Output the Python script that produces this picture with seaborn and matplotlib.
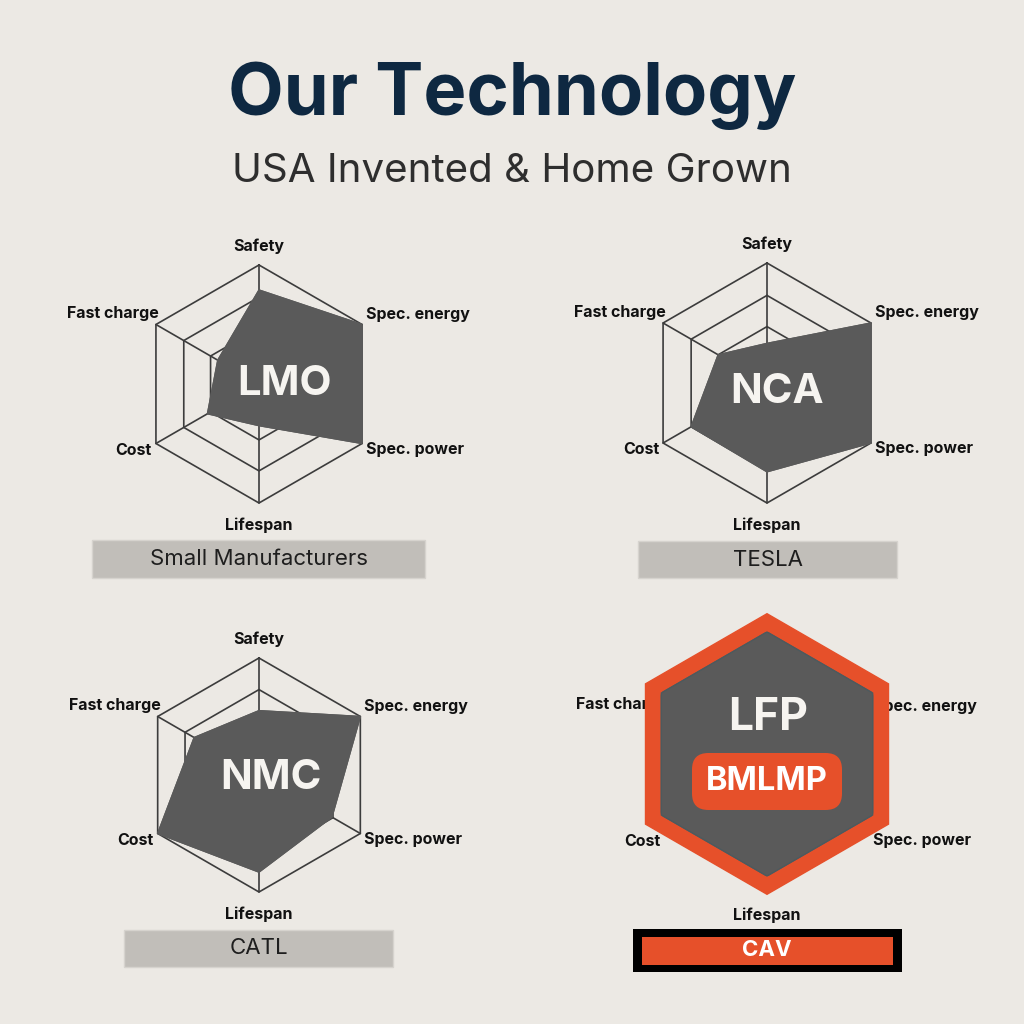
import numpy as np
import matplotlib
matplotlib.use("Agg")
import matplotlib.pyplot as plt
import seaborn as sns
from matplotlib.patches import Rectangle, FancyBboxPatch

# ---------------- data ----------------
categories = ["Safety", "Spec. energy", "Spec. power", "Lifespan", "Cost", "Fast charge"]
chemistries = ["LMO", "NCA", "NMC", "LFP"]
makers = ["Small Manufacturers", "TESLA", "CATL", "CAV"]
lmo_values = [0.79, 1.00, 1.00, 0.35, 0.50, 0.40]
nca_values = [0.33, 1.00, 1.00, 0.74, 0.73, 0.47]
nmc_values = [0.55, 1.00, 0.72, 0.83, 1.00, 0.64]
lfp_values = [1.00, 1.00, 1.00, 1.00, 1.00, 1.00]
ring_levels = [0.47, 0.73, 1.00]
badge_text = "BMLMP"
title = "Our Technology"
subtitle = "USA Invented & Home Grown"

# ---------------- style ----------------
BG = "#ece9e4"
NAVY = "#0e2841"
GRAY_FILL = "#5a5a5a"
GRID = "#3c3c3c"
ORANGE = "#e6502a"
CAPTION_BOX = "#c1beb9"
W = H = 1024

sns.set_theme(style="white")
plt.rcParams["font.family"] = ["Inter", "DejaVu Sans"]

fig = plt.figure(figsize=(10.24, 10.24), dpi=100, facecolor=BG)


def fx(x):
    return x / W


def fy(y):
    return 1 - y / H


def polar_at(cx, cy, R):
    ax = fig.add_axes([fx(cx - R), fy(cy + R), 2 * R / W, 2 * R / H], projection="polar")
    ax.set_theta_offset(np.pi / 2)
    ax.set_theta_direction(-1)
    ax.set_ylim(0, 1)
    ax.axis("off")
    return ax


theta = np.arange(len(categories)) * 2 * np.pi / len(categories)
theta_c = np.append(theta, theta[0])

# label offsets in pixels from each outer vertex: (dx, dy, ha)
label_off = [(0, 19, "center"), (4, 10, "left"), (4, -6, "left"),
             (0, -22, "center"), (-4, -7, "right"), (3, 11, "right")]


def draw_labels(ax):
    for t, lab, (dx, dy, ha) in zip(theta, categories, label_off):
        ax.annotate(lab, xy=(t, 1.0), xytext=(dx, dy), textcoords="offset pixels",
                    ha=ha, va="center", fontsize=11.5, fontweight="bold",
                    color="#111111", annotation_clip=False)


def draw_grid(ax):
    for lv in ring_levels:
        ln, = ax.plot(theta_c, [lv] * len(theta_c), color=GRID, lw=1.2, zorder=1)
        ln.set_clip_on(False)
    for t in theta:
        ln, = ax.plot([t, t], [0, 1], color=GRID, lw=1.2, zorder=1)
        ln.set_clip_on(False)


def draw_caption(cx, y0, y1, w, text, dark=False):
    if dark:
        fig.add_artist(Rectangle((fx(cx - w / 2), fy(y1)), w / W, (y1 - y0) / H,
                                 transform=fig.transFigure, facecolor="black",
                                 edgecolor="none", zorder=2))
        fig.add_artist(Rectangle((fx(cx - w / 2 + 9), fy(y1 - 7)), (w - 18) / W, (y1 - y0 - 15) / H,
                                 transform=fig.transFigure, facecolor=ORANGE,
                                 edgecolor="none", zorder=3))
        fig.text(fx(cx), fy((y0 + y1) / 2 - 1), text, ha="center", va="center",
                 fontsize=16, fontweight="bold", color="white", zorder=4)
    else:
        fig.add_artist(Rectangle((fx(cx - w / 2), fy(y1)), w / W, (y1 - y0) / H,
                                 transform=fig.transFigure, facecolor=CAPTION_BOX,
                                 edgecolor="#d6d3ce", lw=1, zorder=2))
        fig.text(fx(cx), fy((y0 + y1) / 2), text, ha="center", va="center",
                 fontsize=16, color="#1e1e1e", zorder=4)


panels = [
    dict(vals=lmo_values, cx=259, cy=384, R=119, tdx=25, tdy=0),
    dict(vals=nca_values, cx=767, cy=383, R=120, tdx=10, tdy=9),
    dict(vals=nmc_values, cx=259, cy=775, R=117, tdx=12, tdy=3),
]

for p, chem in zip(panels, chemistries[:3]):
    ax = polar_at(p["cx"], p["cy"], p["R"])
    draw_grid(ax)
    v = np.append(p["vals"], p["vals"][0])
    polys = ax.fill(theta_c, v, color=GRAY_FILL, zorder=3)
    for pg in polys:
        pg.set_clip_on(False)
    sns.lineplot(x=theta_c, y=v, sort=False, estimator=None, ax=ax,
                 color=GRAY_FILL, lw=1, zorder=4)
    ax.axis("off")
    draw_labels(ax)
    ax.annotate(chem, xy=(0, 0), xytext=(p["tdx"], -p["tdy"]), textcoords="offset pixels",
                ha="center", va="center", fontsize=30, fontweight="bold",
                color="#f6f4f0", zorder=6, annotation_clip=False)

# LFP panel: labels underneath, hexagon badge on top
ax_l = polar_at(767, 775, 118)
draw_grid(ax_l)
draw_labels(ax_l)

ax_b = polar_at(767, 754, 122)
v = np.append(lfp_values, lfp_values[0])
outer = ax_b.fill(theta_c, v * 1.15, color=ORANGE, zorder=2)
inner = ax_b.fill(theta_c, v, color=GRAY_FILL, zorder=3)
for pg in outer + inner:
    pg.set_clip_on(False)
sns.lineplot(x=theta_c, y=v, sort=False, estimator=None, ax=ax_b,
             color="#4d5a5e", lw=1, zorder=4)
ax_b.axis("off")

fig.text(fx(768), fy(718), chemistries[3], ha="center", va="center",
         fontsize=32, fontweight="bold", color="#f6f4f0", zorder=6)
fig.add_artist(FancyBboxPatch((fx(692), fy(810)), 150 / W, 57 / H,
                              boxstyle="round,pad=0.0,rounding_size=0.016",
                              transform=fig.transFigure, facecolor=ORANGE,
                              edgecolor="none", zorder=5))
fig.text(fx(767), fy(782), badge_text, ha="center", va="center",
         fontsize=23.5, fontweight="bold", color="white", zorder=6)

# captions
draw_caption(258.5, 540, 578, 333, makers[0])
draw_caption(767.5, 541, 578, 259, makers[1])
draw_caption(258.5, 930, 967, 269, makers[2])
draw_caption(767, 929, 972, 269, makers[3], dark=True)

# titles
fig.text(0.5, fy(115), title, ha="center", va="baseline", fontsize=52,
         fontweight="bold", color=NAVY)
fig.text(0.5, fy(182), subtitle, ha="center", va="baseline", fontsize=29,
         color="#2e2e2e")

fig.savefig("out.png", dpi=100, facecolor=BG)
